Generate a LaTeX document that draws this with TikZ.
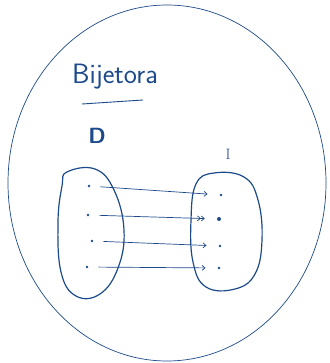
\documentclass[tikz,border=0pt]{standalone}
\usetikzlibrary{arrows.meta}
\definecolor{tinta}{RGB}{28,74,138}
\tikzset{
  punto/.style={circle, fill=tinta, inner sep=0pt, minimum size=2.6pt},
  flecha/.style={-{Straight Barb[length=3pt,width=5pt]}, line width=0.7pt, tinta, shorten <=10pt, shorten >=12pt}
}
\begin{document}
\begin{tikzpicture}[x=1pt, y=-1pt]
    \useasboundingbox (0,0) rectangle (329,363);

    % Большой круг
    \draw[tinta, line width=0.7pt] (167,183) ellipse [x radius=159, y radius=178];

    % Заголовок и подчёркивание
    \node[tinta, font=\sffamily\fontsize{28}{30}\selectfont] (titulo) at (115,77) {Bijetora};
    \draw[tinta, line width=0.9pt] (82,104) -- (143,100);

    % Подписи множеств
    \node[tinta, font=\sffamily\bfseries\fontsize{22}{24}\selectfont] (dom) at (97,136) {D};
    \node[tinta, font=\rmfamily\fontsize{15}{17}\selectfont] (img) at (228,154) {I};

    % Область определения (левый овал)
    \draw[tinta, line width=1.2pt] plot[smooth cycle, tension=0.7] coordinates
      {(67,172) (95,169) (114,190) (124,230) (118,268) (100,294) (76,296) (61,272) (58,222) (62,186)};

    % Образ (правый овал)
    \draw[tinta, line width=1.2pt] plot[smooth cycle, tension=0.7] coordinates
      {(214,173) (244,177) (258,200) (262,240) (255,274) (235,289) (206,287) (193,262) (191,220) (196,184)};

    % Точки слева
    \node[punto] (d1) at (89,186) {};
    \node[punto] (d2) at (88,215) {};
    \node[punto] (d3) at (92,241) {};
    \node[punto] (d4) at (87,267) {};

    % Точки справа
    \node[punto] (i1) at (221,195) {};
    \node[punto, minimum size=4pt] (i2) at (219,219) {};
    \node[punto] (i3) at (220,246) {};
    \node[punto] (i4) at (219,268) {};

    % Стрелки отображения
    \draw[flecha] (d1) -- (i1);
    \draw[flecha, -{Straight Barb[length=3pt,width=5pt] Straight Barb[length=3pt,width=5pt]}] (d2) -- (i2);
    \draw[flecha] (d3) -- (i3);
    \draw[flecha] (d4) -- (i4);
\end{tikzpicture}
\end{document}
